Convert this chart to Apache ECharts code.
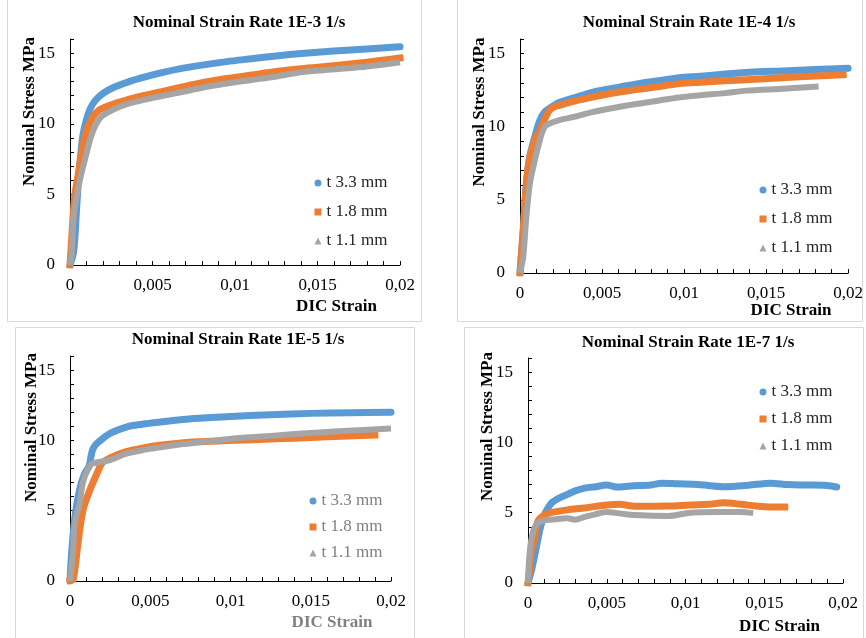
<!DOCTYPE html>
<html>
<head>
<meta charset="utf-8">
<script src="https://cdn.jsdelivr.net/npm/echarts@6/dist/echarts.min.js"></script>
<style>html,body{margin:0;padding:0;background:#fff;}#c{width:866px;height:638px;}</style>
</head>
<body>
<div id="c"></div>
<script>
// ---- data (strain, stress MPa) ----
const panelTitles = ['Nominal Strain Rate 1E-3 1/s','Nominal Strain Rate 1E-4 1/s','Nominal Strain Rate 1E-5 1/s','Nominal Strain Rate 1E-7 1/s'];
const seriesNames = ['t 3.3 mm','t 1.8 mm','t 1.1 mm'];
const xTickValues = [0, 0.005, 0.01, 0.015, 0.02];
const xTickLabels = ['0', '0,005', '0,01', '0,015', '0,02'];
const yTickValues = [0, 5, 10, 15];
const yTickLabels = ['0', '5', '10', '15'];
const yAxisName = 'Nominal Stress MPa';
const xAxisName = 'DIC Strain';

// 1E-3
const r3_t33 = [[0,0],[0.0002,0.8],[0.0003,2.0],[0.0004,4.0],[0.0005,5.8],[0.0006,7.2],[0.0007,8.4],[0.0008,9.3],[0.001,10.3],[0.0012,11.0],[0.0015,11.6],[0.002,12.15],[0.0027,12.6],[0.0035,12.95],[0.0045,13.3],[0.0055,13.6],[0.0067,13.9],[0.008,14.15],[0.0095,14.4],[0.011,14.6],[0.0125,14.8],[0.014,14.97],[0.016,15.15],[0.018,15.3],[0.02,15.45]];
const r3_t18 = [[0,0],[0.0001,1.8],[0.0002,3.7],[0.0003,5.0],[0.0005,6.4],[0.0007,7.9],[0.001,9.5],[0.0014,10.5],[0.0018,11.0],[0.0025,11.35],[0.0035,11.7],[0.0045,12.0],[0.0055,12.25],[0.0068,12.6],[0.008,12.9],[0.0095,13.2],[0.011,13.45],[0.0125,13.7],[0.014,13.9],[0.016,14.1],[0.018,14.35],[0.02,14.65]];
const r3_t11 = [[0,0],[0.0001,0.8],[0.0002,3.2],[0.0004,4.8],[0.0006,6.0],[0.0008,7.0],[0.001,7.9],[0.0012,8.8],[0.0014,9.5],[0.0017,10.2],[0.002,10.6],[0.0027,11.05],[0.0035,11.4],[0.0045,11.7],[0.0055,11.95],[0.0068,12.25],[0.008,12.55],[0.0095,12.85],[0.011,13.1],[0.0125,13.35],[0.014,13.65],[0.016,13.85],[0.018,14.05],[0.02,14.35]];
// 1E-4
const r4_t33 = [[0,0],[0.0002,3.0],[0.0004,6.3],[0.0006,8.0],[0.0009,9.3],[0.0012,10.4],[0.0015,11.0],[0.002,11.4],[0.0025,11.7],[0.0035,12.05],[0.0044,12.35],[0.0055,12.6],[0.0065,12.8],[0.0075,13.0],[0.0085,13.15],[0.0097,13.35],[0.011,13.45],[0.0125,13.6],[0.014,13.72],[0.016,13.82],[0.018,13.92],[0.02,14.0]];
const r4_t18 = [[0,0],[0.0002,2.9],[0.0004,6.2],[0.0006,7.9],[0.0009,9.05],[0.0013,9.95],[0.0016,10.75],[0.0019,11.25],[0.0025,11.5],[0.0035,11.8],[0.0045,12.05],[0.0055,12.27],[0.0065,12.45],[0.0075,12.6],[0.0085,12.75],[0.0097,12.95],[0.011,13.05],[0.0125,13.15],[0.0138,13.22],[0.016,13.35],[0.018,13.47],[0.0197,13.56]];
const r4_t11 = [[0,0],[0.0001,0.5],[0.0002,1.1],[0.0004,4.0],[0.0006,6.1],[0.0009,7.7],[0.0012,9.05],[0.0014,9.75],[0.0016,10.1],[0.0024,10.45],[0.0034,10.7],[0.0044,11.0],[0.0055,11.25],[0.0065,11.45],[0.0075,11.62],[0.0085,11.8],[0.0097,12.0],[0.011,12.15],[0.0125,12.3],[0.0138,12.47],[0.016,12.6],[0.0182,12.75]];
// 1E-5
const r5_t33 = [[0,0],[0.0001,2.0],[0.0003,4.5],[0.0006,6.5],[0.0009,7.6],[0.0012,8.2],[0.0013,8.8],[0.0014,9.3],[0.0016,9.7],[0.0019,10.0],[0.0025,10.5],[0.0035,10.95],[0.0045,11.15],[0.0056,11.3],[0.0077,11.55],[0.01,11.7],[0.0125,11.82],[0.015,11.92],[0.0175,11.97],[0.02,12.0]];
const r5_t18 = [[0,0],[0.0002,0.1],[0.0005,2.7],[0.0008,5.0],[0.00125,6.5],[0.0017,7.7],[0.002,8.4],[0.0025,8.75],[0.0035,9.2],[0.0045,9.45],[0.0056,9.65],[0.0068,9.8],[0.008,9.9],[0.0095,9.97],[0.011,10.03],[0.0125,10.1],[0.014,10.15],[0.016,10.25],[0.019,10.38]];
const r5_t11 = [[0,0],[0.0001,1.0],[0.0002,2.2],[0.0003,4.1],[0.0006,5.5],[0.0008,7.0],[0.0011,7.9],[0.0014,8.35],[0.0025,8.6],[0.0035,9.05],[0.0045,9.3],[0.0056,9.5],[0.0068,9.7],[0.008,9.85],[0.0095,10.05],[0.011,10.2],[0.0125,10.32],[0.014,10.45],[0.016,10.6],[0.018,10.72],[0.02,10.85]];
// 1E-7
const r7_t33 = [[0,0],[0.0002,0.8],[0.00045,2.1],[0.0008,4.0],[0.0011,5.0],[0.0015,5.7],[0.002,6.05],[0.0025,6.3],[0.003,6.55],[0.0036,6.75],[0.0043,6.85],[0.005,6.97],[0.0057,6.82],[0.0065,6.9],[0.0078,6.97],[0.0085,7.1],[0.0095,7.05],[0.0108,7.0],[0.0124,6.85],[0.014,6.95],[0.0154,7.1],[0.0165,7.0],[0.0177,6.97],[0.0188,6.95],[0.0196,6.83]];
const r7_t18 = [[0,0],[0.0001,1.0],[0.0002,2.1],[0.00044,3.3],[0.00063,4.4],[0.001,4.8],[0.00146,5.0],[0.0025,5.2],[0.0036,5.33],[0.0043,5.45],[0.005,5.55],[0.0058,5.6],[0.0068,5.45],[0.0089,5.47],[0.0103,5.55],[0.0115,5.6],[0.0124,5.7],[0.0135,5.6],[0.0145,5.47],[0.0155,5.4],[0.0163,5.4]];
const r7_t11 = [[0,0],[0.0001,2.1],[0.0003,3.55],[0.0006,4.26],[0.001,4.45],[0.00146,4.5],[0.0025,4.6],[0.003,4.5],[0.0036,4.7],[0.0043,4.9],[0.005,5.05],[0.0058,4.95],[0.0068,4.83],[0.0089,4.76],[0.0103,5.0],[0.012,5.05],[0.0135,5.05],[0.0143,4.97]];

const panelData = [[r3_t33, r3_t18, r3_t11],[r4_t33, r4_t18, r4_t11],[r5_t33, r5_t18, r5_t11],[r7_t33, r7_t18, r7_t11]];

// ---- layout / style ----
const FONT = '"Liberation Serif","Times New Roman",serif';
const colors = ['#5B9BD5', '#ED7D31', '#A5A5A5'];
const icons = ['circle', 'rect', 'triangle'];
const caps = ['round', 'square', 'butt'];
const widths = [7, 7, 6];
const grids = [
  {left: 70, right: 466, top: 39, bottom: 373},
  {left: 520, right: 17, top: 39, bottom: 365},
  {left: 70, right: 475, top: 356, bottom: 57},
  {left: 528, right: 23, top: 358, bottom: 55}
];
const titlePos = [[239, 14], [689, 14], [238, 331], [688, 334]];
const legendPos = [[314.5, 174.5, 12], [759.5, 181.5, 12], [309.5, 492.5, 9], [759.5, 383.5, 10]];
const legendColor = ['#262626', '#262626', '#808080', '#262626'];
const yNamePos = [[30, 111.5], [480, 112], [32, 427.5], [488, 426.5]];
const xNamePos = [[336.5, 307], [791, 311], [332, 623], [779.5, 627]];
const xNameColor = ['#000', '#000', '#808080', '#000'];
const boxes = [[7, -2, 414, 323], [457, -2, 405, 323], [15, 327, 399, 315], [464, 327, 399, 315]];

function lookup(vals, labels, v) {
  for (let i = 0; i < vals.length; i++) if (Math.abs(vals[i] - v) < 1e-9) return labels[i];
  return '';
}

const option = {
  animation: false,
  backgroundColor: '#fff',
  title: [], grid: [], xAxis: [], yAxis: [], legend: [], series: [], graphic: []
};

for (let p = 0; p < 4; p++) {
  option.title.push({
    text: panelTitles[p], left: titlePos[p][0], top: titlePos[p][1], textAlign: 'center', padding: 0,
    textStyle: {fontFamily: FONT, fontWeight: 'bold', fontSize: 17, color: '#000'}
  });
  option.grid.push(Object.assign({containLabel: false}, grids[p]));
  option.xAxis.push({
    type: 'value', gridIndex: p, min: 0, max: 0.02, interval: 0.001,
    axisLine: {show: true, onZero: false, lineStyle: {color: '#000', width: 1}},
    axisTick: {show: true, inside: true, length: 4, lineStyle: {color: '#000'}},
    splitLine: {show: false},
    axisLabel: {margin: 12, fontFamily: FONT, fontSize: 17, color: '#000',
      formatter: v => lookup(xTickValues, xTickLabels, v)}
  });
  option.yAxis.push({
    type: 'value', gridIndex: p, min: 0, max: 16, interval: 1,
    axisLine: {show: true, onZero: false, lineStyle: {color: '#000', width: 1}},
    axisTick: {show: true, inside: true, length: 4, lineStyle: {color: '#000'}},
    splitLine: {show: false},
    axisLabel: {margin: 15, fontFamily: FONT, fontSize: 17, color: '#000',
      formatter: v => lookup(yTickValues, yTickLabels, v)}
  });
  option.legend.push({
    orient: 'vertical', left: legendPos[p][0], top: legendPos[p][1], itemGap: legendPos[p][2],
    padding: 0, itemWidth: 7, itemHeight: 7, selectedMode: false,
    textStyle: {fontFamily: FONT, fontSize: 17, color: legendColor[p]},
    data: seriesNames.map((n, i) => ({name: n, icon: icons[i], itemStyle: {color: colors[i]}}))
  });
  for (let s = 0; s < 3; s++) {
    option.series.push({
      type: 'line', name: seriesNames[s], xAxisIndex: p, yAxisIndex: p,
      data: panelData[p][s], showSymbol: false, symbol: 'none', smooth: 0.3,
      color: colors[s],
      lineStyle: {color: colors[s], width: widths[s], cap: caps[s], join: 'round'},
      z: 2 + s
    });
  }
  option.graphic.push({
    type: 'rect', silent: true, z: -1,
    shape: {x: boxes[p][0] + 0.5, y: boxes[p][1] + 0.5, width: boxes[p][2], height: boxes[p][3]},
    style: {fill: 'none', stroke: '#d9d9d9', lineWidth: 1}
  });
  option.graphic.push({
    type: 'text', silent: true, x: yNamePos[p][0], y: yNamePos[p][1], rotation: Math.PI / 2,
    style: {text: yAxisName, font: 'bold 17px ' + FONT, fill: '#000', textAlign: 'center', textVerticalAlign: 'middle'}
  });
  option.graphic.push({
    type: 'text', silent: true, x: xNamePos[p][0], y: xNamePos[p][1],
    style: {text: xAxisName, font: 'bold 17px ' + FONT, fill: xNameColor[p], textAlign: 'center', textVerticalAlign: 'middle'}
  });
}

const chart = echarts.init(document.getElementById('c'), null, {renderer: 'canvas'});
chart.setOption(option);
</script>
</body>
</html>
